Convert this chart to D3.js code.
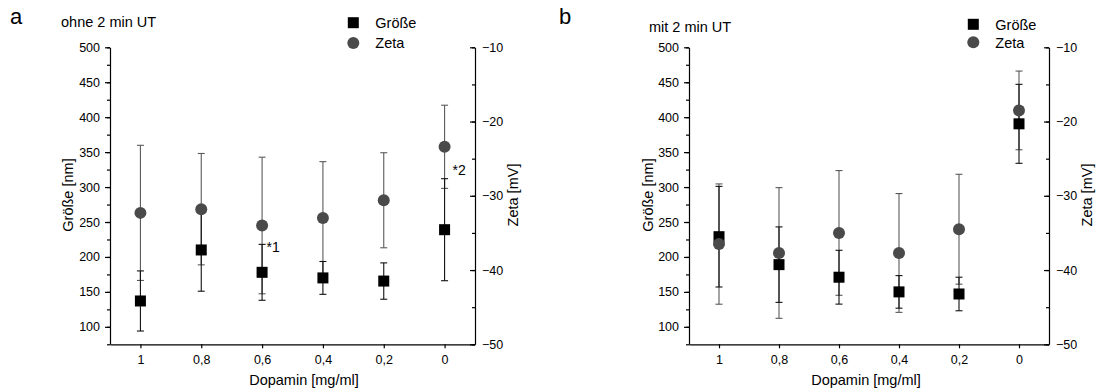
<!DOCTYPE html>
<html><head><meta charset="utf-8">
<script src="https://cdn.jsdelivr.net/npm/d3@7"></script>
<style>
html,body{margin:0;padding:0;background:#fff;}
text{font-family:"Liberation Sans",Arial,sans-serif;fill:#000;}
</style></head>
<body><svg id="c" width="1097" height="392"></svg>
<script>
// ---- data ----
const dopamin = [1, 0.8, 0.6, 0.4, 0.2, 0];
const xTickLabels = ["1", "0,8", "0,6", "0,4", "0,2", "0"];
const sizeTicks = [100, 150, 200, 250, 300, 350, 400, 450, 500];
const zetaTicks = [-50, -40, -30, -20, -10];

const sizeA    = [137, 210, 178, 170, 165.5, 239];
const sizeErrA = [43, 59, 40, 23.5, 26, 73];
const zetaA    = [-32.3, -31.8, -34.0, -33.0, -30.6, -23.4];
const zetaErrA = [9.1, 7.5, 9.2, 7.6, 6.4, 5.6];

const sizeB    = [229, 189, 171, 150, 147, 390.5];
const sizeErrB = [72, 54, 38.5, 23.3, 24, 56.5];
const zetaB    = [-36.5, -37.7, -35.0, -37.7, -34.5, -18.5];
const zetaErrB = [8.1, 8.8, 8.4, 8.0, 7.4, 5.3];

const svg = d3.select("#c");
svg.append("rect").attr("width",1097).attr("height",392).attr("fill","#fff");

function panel(o){
  const g = svg.append("g");
  const x = d3.scaleLinear().domain([1.1,-0.1]).range([o.x0,o.x1]);
  const yS = d3.scaleLinear().domain([75,500]).range([344.3,47.3]);
  const yZ = d3.scaleLinear().domain([-50,-10]).range([344.3,47.3]);
  const fmt = v => xTickLabels[dopamin.indexOf(v)];

  // minor ticks
  g.append("g").attr("transform",`translate(${o.x0},0)`)
    .call(d3.axisLeft(yS).tickValues(d3.range(75,501,25)).tickSize(3).tickFormat(""))
    .call(a=>a.select(".domain").remove());
  g.append("g").attr("transform",`translate(${o.x1},0)`)
    .call(d3.axisRight(yZ).tickValues(d3.range(-50,-9,5)).tickSize(-3).tickFormat(""))
    .call(a=>a.select(".domain").remove());

  const ax = g.append("g").attr("transform",`translate(${o.x0},0)`)
    .call(d3.axisLeft(yS).tickValues(sizeTicks).tickSize(5).tickSizeOuter(0).tickPadding(5));
  ax.selectAll("text").attr("font-size",12.5);
  const az = g.append("g").attr("transform",`translate(${o.x1},0)`)
    .call(d3.axisRight(yZ).tickValues(zetaTicks).tickSize(-5).tickSizeOuter(0).tickPadding(7));
  az.selectAll("text").attr("font-size",12.5);
  const axb = g.append("g").attr("transform",`translate(0,344.3)`)
    .call(d3.axisBottom(x).tickValues(dopamin).tickFormat(fmt).tickSize(4).tickSizeOuter(0).tickPadding(6.5));
  axb.selectAll("text").attr("font-size",12.5);
  g.selectAll(".domain,.tick line").attr("stroke","#000").attr("stroke-width",1.2);
  g.selectAll(".tick text").attr("font-family","'Liberation Sans',Arial,sans-serif").attr("fill","#000");

  const cap = 3.5;
  function errbars(vals, errs, y, color, cls){
    const eg = g.append("g").attr("stroke",color).attr("stroke-width",1.1).attr("fill","none");
    dopamin.forEach((d,i)=>{
      const cx = x(d), lo = y(vals[i]-errs[i]), hi = y(vals[i]+errs[i]);
      eg.append("line").attr("x1",cx).attr("x2",cx).attr("y1",lo).attr("y2",hi);
      eg.append("line").attr("x1",cx-cap).attr("x2",cx+cap).attr("y1",lo).attr("y2",lo);
      eg.append("line").attr("x1",cx-cap).attr("x2",cx+cap).attr("y1",hi).attr("y2",hi);
    });
  }
  errbars(o.zeta, o.zetaErr, yZ, "#5a5a5a");
  errbars(o.size, o.sizeErr, yS, "#111");
  g.append("g").selectAll("rect").data(dopamin).join("rect")
    .attr("x",(d)=>x(d)-5.5).attr("y",(d,i)=>yS(o.size[i])-5.5)
    .attr("width",11).attr("height",11).attr("fill","#000");
  g.append("g").selectAll("circle").data(dopamin).join("circle")
    .attr("cx",d=>x(d)).attr("cy",(d,i)=>yZ(o.zeta[i])).attr("r",6).attr("fill","#4a4a4a");

  // axis titles
  g.append("text").attr("transform",`translate(${o.ylabX},195) rotate(-90)`)
    .attr("text-anchor","middle").attr("font-size",14.5).text("Größe [nm]");
  g.append("text").attr("transform",`translate(${o.zlabX},195) rotate(-90)`)
    .attr("text-anchor","middle").attr("font-size",14.5).text("Zeta [mV]");
  g.append("text").attr("x",o.xlabX).attr("y",385).attr("text-anchor","middle")
    .attr("font-size",14.5).text("Dopamin [mg/ml]");
  // panel letter + title
  g.append("text").attr("x",o.letterX).attr("y",23.5).attr("font-size",22).text(o.letter);
  g.append("text").attr("x",o.titleX).attr("y",o.titleY).attr("font-size",14.5).text(o.title);
  // legend
  g.append("rect").attr("x",o.legX-5.5).attr("y",o.legY1-5.5).attr("width",11).attr("height",11).attr("fill","#000");
  g.append("text").attr("x",o.legX+22).attr("y",o.legY1+5.2).attr("font-size",14.5).text("Größe");
  g.append("circle").attr("cx",o.legX).attr("cy",o.legY2).attr("r",6).attr("fill","#4a4a4a");
  g.append("text").attr("x",o.legX+22).attr("y",o.legY2+5.2).attr("font-size",14.5).text("Zeta");
  return {g,x,yS,yZ};
}

const A = panel({x0:110,x1:475,size:sizeA,sizeErr:sizeErrA,zeta:zetaA,zetaErr:zetaErrA,
  ylabX:73,zlabX:518,xlabX:304,letter:"a",letterX:10,title:"ohne 2 min UT",titleX:61,titleY:26.5,
  legX:353.3,legY1:22.7,legY2:43});
A.g.append("text").attr("x",A.x(0.6)+4.5).attr("y",251.7).attr("font-size",14).text("*1");
A.g.append("text").attr("x",A.x(0)+8).attr("y",175).attr("font-size",14).text("*2");

const B = panel({x0:689,x1:1049,size:sizeB,sizeErr:sizeErrB,zeta:zetaB,zetaErr:zetaErrB,
  ylabX:653,zlabX:1092,xlabX:866,letter:"b",letterX:559,title:"mit 2 min UT",titleX:649,titleY:32,
  legX:973.3,legY1:24.3,legY2:42.3});
</script></body></html>
